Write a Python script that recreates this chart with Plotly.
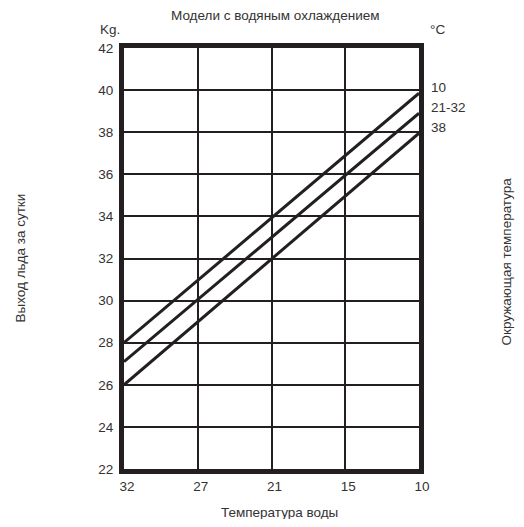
import plotly.graph_objects as go

# температура воды (ось X, категории слева направо)
temp_voda = ["32", "27", "21", "15", "10"]
# выход льда, кг/сутки: значения на краях (32°C и 10°C воды)
linii = ["10", "21-32", "38"]
kg_start = [28.0, 27.1, 26.0]
kg_end = [39.85, 38.9, 37.95]
y_ticks = [22, 24, 26, 28, 30, 32, 34, 36, 38, 40, 42]

ink = "#231f20"
txt = "#333333"
fs = 13.5

fig = go.Figure()
for name, a, b in zip(linii, kg_start, kg_end):
    fig.add_trace(go.Scatter(x=[temp_voda[0], temp_voda[-1]], y=[a, b], mode="lines",
                             line=dict(color=ink, width=3), name=name, showlegend=False))
    fig.add_annotation(x=temp_voda.index(temp_voda[-1]), y=b, text=name, showarrow=False,
                       xanchor="left", yanchor="middle", xshift=10, yshift=6,
                       font=dict(size=fs, color=txt))

fig.update_xaxes(type="category", categoryarray=temp_voda, range=[0, 4],
                 showgrid=True, gridcolor=ink, gridwidth=2,
                 showline=True, linecolor=ink, linewidth=5, mirror=True,
                 ticks="", ticklabelstandoff=1, ticklabelshift=3,
                 tickfont=dict(size=fs, color=txt), zeroline=False)
fig.update_yaxes(range=[22, 42], tickvals=y_ticks, showgrid=True, gridcolor=ink, gridwidth=2,
                 showline=True, linecolor=ink, linewidth=5, mirror=True,
                 ticks="", ticklabelstandoff=3, tickfont=dict(size=fs, color=txt), zeroline=False)


def label(x, y, text, dx, dy, angle=0, size=fs):
    fig.add_annotation(xref="paper", yref="paper", x=x, y=y, text=text, showarrow=False,
                       xanchor="center", yanchor="middle", xshift=dx, yshift=dy,
                       textangle=angle, font=dict(size=size, color=txt))


label(0, 1, "Kg.", -14, 19)
label(1, 1, "°C", 18, 19)
label(0.5, 1, "Модели с водяным охлаждением", 4, 33)
label(0.5, 0, "Температура воды", 8, -43)
label(0, 0.5, "Выход льда за сутки", -104, 0, angle=-90)
label(1, 0.5, "Окружающая температура", 87, -3, angle=-90, size=13.5)

fig.update_layout(width=508, height=511, margin=dict(l=116, r=97, t=40, b=50),
                  plot_bgcolor="white", paper_bgcolor="white",
                  font=dict(family="Liberation Sans, Arial, sans-serif"))

fig.write_html("out.html")
